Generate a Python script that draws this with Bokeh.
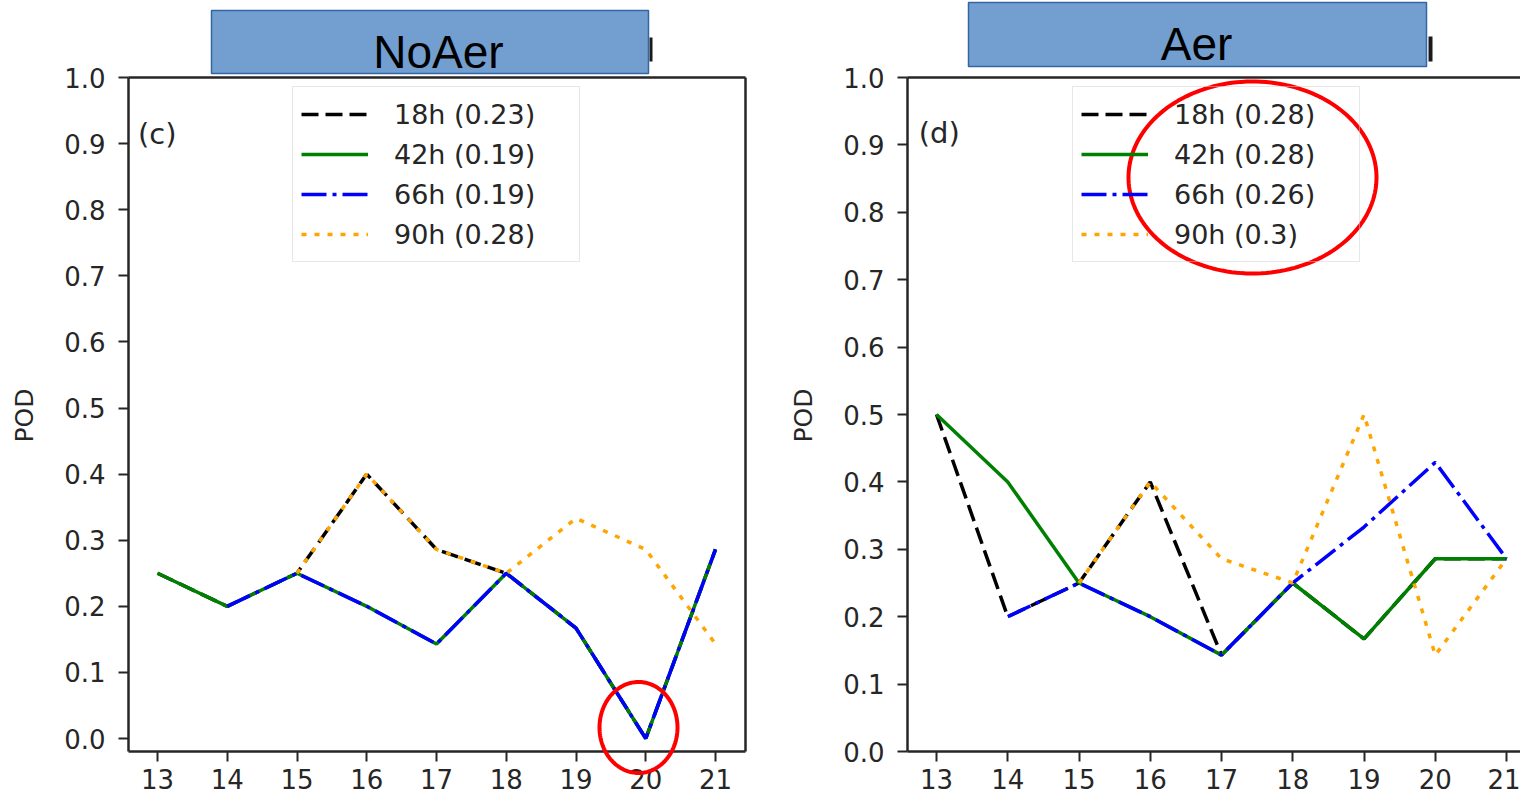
import numpy as np
from bokeh.plotting import figure
from bokeh.models import (Legend, LegendItem, Label, BoxAnnotation, PolyAnnotation,
                          FixedTicker, NumeralTickFormatter, LinearAxis, Range1d)
from bokeh.layouts import row
from bokeh.embed import file_html
from bokeh.resources import INLINE

NAN = float("nan")

# ---------------- data ----------------
days = [13, 14, 15, 16, 17, 18, 19, 20, 21]
y_ticks = [0.0, 0.1, 0.2, 0.3, 0.4, 0.5, 0.6, 0.7, 0.8, 0.9, 1.0]

series_names = ["18h", "42h", "66h", "90h"]

noaer_18h = [0.25, 0.2, 0.25, 0.4, 0.286, 0.25, 0.167, 0.0, 0.286]
noaer_42h = [0.25, 0.2, 0.25, 0.2, 0.143, 0.25, 0.167, 0.0, 0.286]
noaer_66h = [NAN, 0.2, 0.25, 0.2, 0.143, 0.25, 0.167, 0.0, 0.286]
noaer_90h = [NAN, NAN, 0.25, 0.4, 0.286, 0.25, 0.333, 0.286, 0.143]
noaer_labels = ["18h (0.23)", "42h (0.19)", "66h (0.19)", "90h (0.28)"]

aer_18h = [0.5, 0.2, 0.25, 0.4, 0.143, 0.25, 0.167, 0.286, 0.286]
aer_42h = [0.5, 0.4, 0.25, 0.2, 0.143, 0.25, 0.167, 0.286, 0.286]
aer_66h = [NAN, 0.2, 0.25, 0.2, 0.143, 0.25, 0.333, 0.429, 0.286]
aer_90h = [NAN, NAN, 0.25, 0.4, 0.286, 0.25, 0.5, 0.143, 0.286]
aer_labels = ["18h (0.28)", "42h (0.28)", "66h (0.26)", "90h (0.3)"]

# ---------------- styles ----------------
FONT = "DejaVu Sans"
TXT = "#262626"
LW = 3.5
SPINE_W = 2.5
line_styles = [
    dict(line_color="black", line_dash="17 7"),
    dict(line_color="green", line_dash="solid"),
    dict(line_color="blue", line_dash="25 6 4 6"),
    dict(line_color="orange", line_dash="5 8"),
]

PAGE_H = 795
SPINE_TOP = 77      # page y of value 1.0


def spine_axis(**kw):
    return LinearAxis(ticker=FixedTicker(ticks=[]), major_tick_out=0, major_tick_in=0,
                      minor_tick_out=0, minor_tick_in=0,
                      major_label_text_font_size="0px",
                      axis_line_width=SPINE_W, axis_line_color=TXT, **kw)


def make_panel(page_x0, width, x13_page, x21_page, spine_left, spine_right,
               y_min, y0_page, series, labels, tag, tag_xy, pod_xy,
               title, box, title_xy, bar, ellipse, legend_x, legend_bottom,
               draw_right_spine):
    # The plotting frame covers the whole canvas; axes are placed with
    # fixed_location and bounds so that they look like matplotlib spines.
    xppu = (x21_page - x13_page) / (days[-1] - days[0])
    x_lo = days[0] - (x13_page - page_x0) / xppu
    x_hi = days[0] + (page_x0 + width - x13_page) / xppu
    yppu = (y0_page - SPINE_TOP) / 1.0
    y_hi = 1.0 + SPINE_TOP / yppu
    y_lo = -(PAGE_H - y0_page) / yppu

    def dx(px):  # page px -> data x
        return days[0] + (px - x13_page) / xppu

    x_left = dx(spine_left)
    x_right = dx(spine_right)

    p = figure(width=width, height=PAGE_H, output_backend="svg", toolbar_location=None,
               x_range=Range1d(x_lo, x_hi), y_range=Range1d(y_lo, y_hi),
               min_border_left=0, min_border_right=0,
               min_border_top=0, min_border_bottom=0,
               background_fill_color="white", border_fill_color="white")
    p.xgrid.visible = False
    p.ygrid.visible = False
    p.outline_line_color = None

    for ax in (p.xaxis[0], p.yaxis[0]):
        ax.axis_line_width = SPINE_W
        ax.axis_line_color = TXT
        ax.major_tick_line_color = TXT
        ax.major_tick_line_width = 2
        ax.major_tick_out = 10
        ax.major_tick_in = 0
        ax.minor_tick_out = 0
        ax.minor_tick_in = 0
        ax.major_label_text_font = FONT
        ax.major_label_text_font_size = "26px"
        ax.major_label_text_color = TXT
    p.xaxis.ticker = FixedTicker(ticks=days)
    p.xaxis.major_label_standoff = 7
    p.xaxis.fixed_location = y_min
    p.xaxis.bounds = (x_left, x_right)
    p.yaxis.ticker = FixedTicker(ticks=y_ticks)
    p.yaxis.formatter = NumeralTickFormatter(format="0.0")
    p.yaxis.major_label_standoff = 13
    p.yaxis.fixed_location = x_left
    p.yaxis.bounds = (y_min, 1.0)

    # top spine and (left panel) right spine
    p.add_layout(spine_axis(fixed_location=1.0, bounds=(x_left, x_right)), "above")
    if draw_right_spine:
        p.add_layout(spine_axis(fixed_location=x_right, bounds=(y_min, 1.0)), "right")

    def sx(px):
        return px - page_x0

    def sy(py):
        return PAGE_H - py

    # y-axis title
    p.add_layout(Label(x=sx(pod_xy[0]), y=sy(pod_xy[1]), x_units="screen", y_units="screen",
                       text="POD", angle=np.pi / 2, text_font=FONT, text_font_size="25px",
                       text_color=TXT, text_align="center", text_baseline="middle"))

    # lines
    items = []
    for vals, st, lab in zip(series, line_styles, labels):
        r = p.line(days, vals, line_width=LW, **st)
        items.append(LegendItem(label=lab, renderers=[r]))

    leg = Legend(items=items, location=(legend_x - page_x0, PAGE_H - legend_bottom),
                 margin=0, padding=8, spacing=2, label_height=38, glyph_height=38,
                 glyph_width=67, label_standoff=26, label_width=177,
                 label_text_font=FONT, label_text_font_size="27px",
                 label_text_color=TXT,
                 border_line_color="#d0d0d0", border_line_width=1.5,
                 background_fill_color="white", background_fill_alpha=0.0)
    p.add_layout(leg)

    p.add_layout(Label(x=tag_xy[0], y=tag_xy[1], text=tag, text_font=FONT,
                       text_font_size="29px", text_color=TXT,
                       text_align="left", text_baseline="middle"))

    bl, bt, br, bb = box
    p.add_layout(BoxAnnotation(left=sx(bl), right=sx(br), top=sy(bt), bottom=sy(bb),
                               left_units="screen", right_units="screen",
                               top_units="screen", bottom_units="screen",
                               fill_color="#729fcf", fill_alpha=1.0,
                               line_color="#3465a4", line_width=1.5, line_alpha=1.0,
                               level="annotation"))
    p.add_layout(Label(x=sx(title_xy[0]), y=sy(title_xy[1]), x_units="screen", y_units="screen",
                       text=title, text_font="Liberation Sans", text_font_size="46px",
                       text_color="black", text_align="center",
                       text_baseline="middle", level="annotation"))
    l, t, rr, b = bar
    p.add_layout(BoxAnnotation(left=sx(l), right=sx(rr), top=sy(t), bottom=sy(b),
                               left_units="screen", right_units="screen",
                               top_units="screen", bottom_units="screen",
                               fill_color="#1a1a1a", fill_alpha=1.0, line_color=None,
                               level="annotation"))

    cx, cy, ew, eh = ellipse
    th = np.linspace(0, 2 * np.pi, 160)
    xs = [sx(cx + ew / 2 * np.cos(a)) for a in th]
    ys = [sy(cy + eh / 2 * np.sin(a)) for a in th]
    p.add_layout(PolyAnnotation(xs=xs, ys=ys, xs_units="screen", ys_units="screen",
                                fill_alpha=0.0, line_color="#ff0000", line_width=4,
                                line_alpha=1.0, level="annotation"))
    return p


left = make_panel(page_x0=0, width=760, x13_page=157, x21_page=715,
                  spine_left=128, spine_right=745, y_min=-0.02, y0_page=738.0,
                  series=[noaer_18h, noaer_42h, noaer_66h, noaer_90h], labels=noaer_labels,
                  tag="(c)", tag_xy=(12.72, 0.915), pod_xy=(24, 415),
                  title="NoAer", box=(211, 10, 648, 73), title_xy=(438, 51),
                  bar=(649, 37, 652, 61), ellipse=(638, 727, 78, 91),
                  legend_x=292, legend_bottom=262, draw_right_spine=True)

right = make_panel(page_x0=760, width=760, x13_page=936, x21_page=1506,
                   spine_left=907, spine_right=1520, y_min=0.0, y0_page=751.0,
                   series=[aer_18h, aer_42h, aer_66h, aer_90h], labels=aer_labels,
                   tag="(d)", tag_xy=(12.75, 0.917), pod_xy=(803, 415),
                   title="Aer", box=(968, 2, 1426, 66), title_xy=(1196, 43),
                   bar=(1428, 36, 1432, 61), ellipse=(1252, 177, 248, 192),
                   legend_x=1072, legend_bottom=262, draw_right_spine=False)

layout = row(left, right)
open("out.html", "w").write(file_html(layout, INLINE))
